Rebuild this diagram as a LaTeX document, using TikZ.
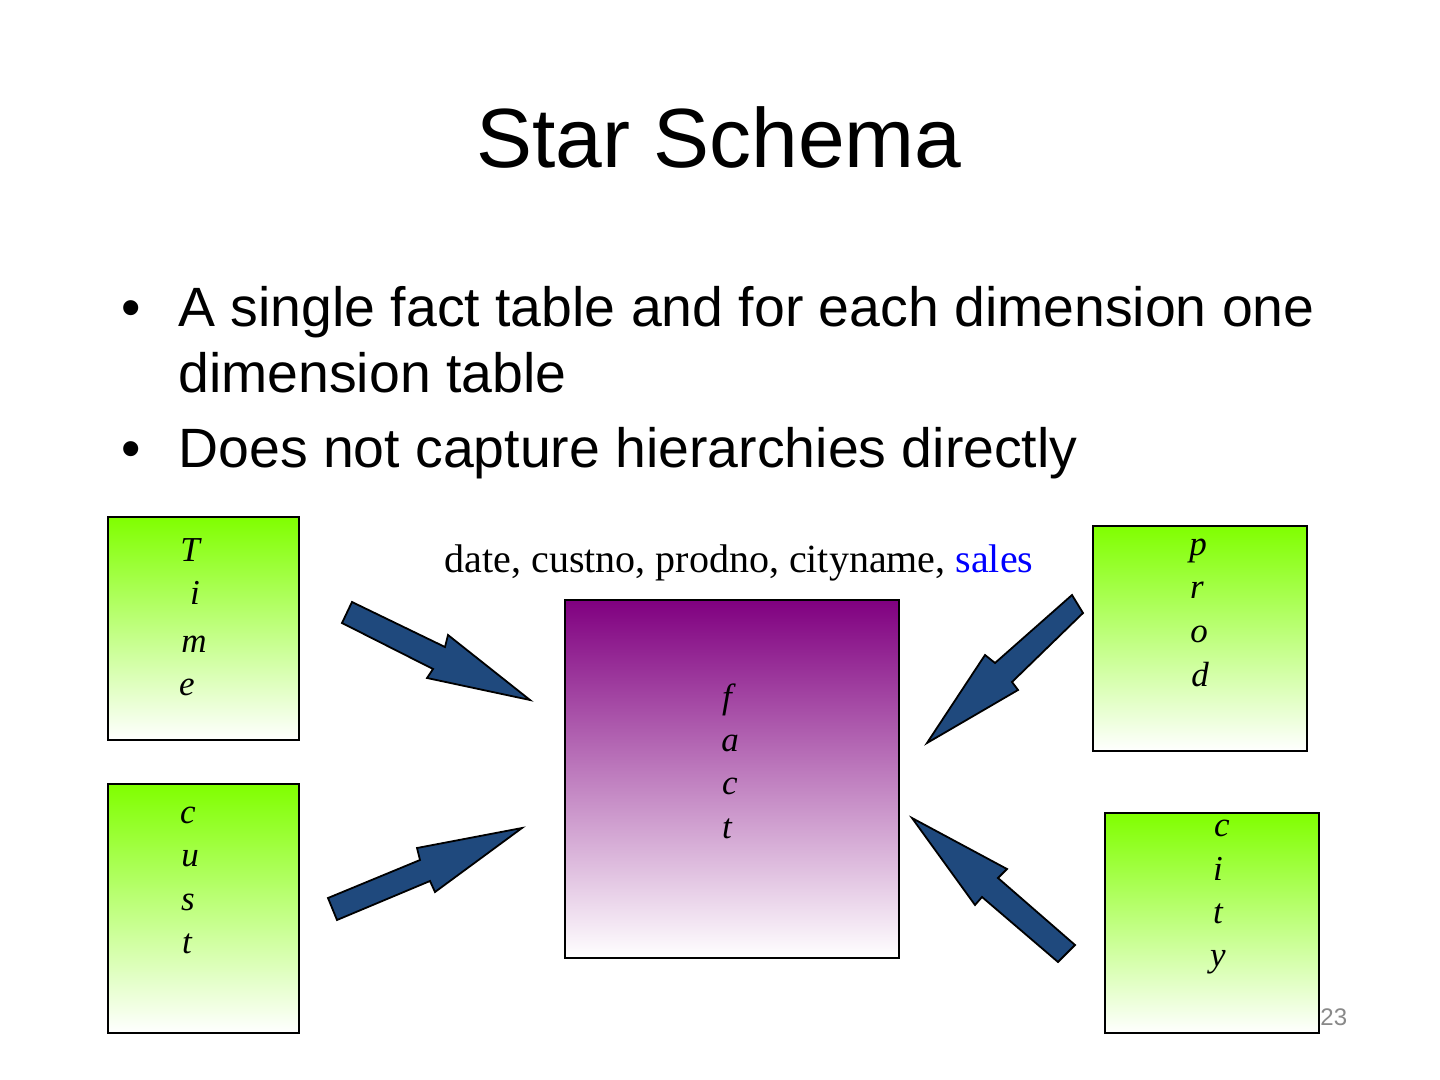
\documentclass[tikz,border=0pt]{standalone}
\usepackage{fontspec}
\setmainfont{Liberation Sans}
\newfontfamily\serifdiag{Liberation Serif}
\usetikzlibrary{positioning}
\definecolor{dimgreen}{RGB}{128,255,0}
\definecolor{factpurple}{RGB}{128,0,128}
\definecolor{arrowblue}{RGB}{31,73,125}
\definecolor{pagegray}{RGB}{137,137,137}

\begin{document}
\begin{tikzpicture}[
  x=0.5pt, y=-0.5pt,
  dimbox/.style={rectangle,draw,line width=1pt,top color=dimgreen,bottom color=white,inner sep=0pt},
  factbox/.style={rectangle,draw,line width=1pt,top color=factpurple,bottom color=white,inner sep=0pt},
  letter/.style={anchor=base,inner sep=0pt,font=\serifdiag\itshape\fontsize{17.5}{22}\selectfont},
  bullettext/.style={anchor=base west,inner sep=0pt,font=\fontsize{27.7}{33}\selectfont},
  blockarrow/.style={draw=black,line width=0.9pt,fill=arrowblue}
]%
  \useasboundingbox (0,0) rectangle (1440,1080);
  \fill[white] (0,0) rectangle (1440,1080);

  % Title
  \node[anchor=base,inner sep=0pt,font=\fontsize{42}{50}\selectfont] (title) at (719,168) {Star Schema};

  % Bullets
  \node[bullettext] (dot1) at (121,327) {\textbullet};
  \node[bullettext] (item1) at (178,327) {A single fact table and for each dimension one};
  \node[bullettext] (item1b) at ([yshift=-33pt]item1.base west) {dimension table};
  \node[bullettext] (dot2) at (121,467) {\textbullet};
  \node[bullettext] (item2) at (178,467) {Does not capture hierarchies directly};

  % Dimension tables
  \node[dimbox,minimum width=95.5pt,minimum height=111.5pt] (time) at (203.5,628.5) {};
  \node[dimbox,minimum width=95.5pt,minimum height=124.5pt] (cust) at (203.5,908.5) {};
  \node[dimbox,minimum width=107pt,minimum height=112.5pt] (prod) at (1200,638.5) {};
  \node[dimbox,minimum width=107pt,minimum height=110pt] (city) at (1212,923) {};

  % Fact table
  \node[factbox,minimum width=167pt,minimum height=179pt] (fact) at (732,779) {};
  \node[anchor=base,inner sep=0pt,font=\serifdiag\fontsize{20}{24}\selectfont] (factattrs)
    at (739,572) {date, custno, prodno, cityname, \textcolor{blue}{sales}};

  % Table names, one letter per line
  \foreach \ch/\x/\y [count=\i] in {T/190/561,i/195/604,m/194/652,e/187/695}
    \node[letter] (time-\i) at (\x,\y) {\ch};
  \foreach \ch/\x/\y [count=\i] in {c/188/823,u/190/866,s/188/910,t/187/953}
    \node[letter] (cust-\i) at (\x,\y) {\ch};
  \foreach \ch/\x/\y [count=\i] in {p/1198/555,r/1197/598,o/1199/642,d/1200/686}
    \node[letter] (prod-\i) at (\x,\y) {\ch};
  \foreach \ch/\x/\y [count=\i] in {c/1222/836,i/1218/880,t/1218/923,y/1218/966}
    \node[letter] (city-\i) at (\x,\y) {\ch};
  \foreach \ch/\x/\y [count=\i] in {f/727/708,a/730/751,c/730/794,t/727/838}
    \node[letter] (fact-\i) at (\x,\y) {\ch};

  % Block arrows into the fact table
  \draw[blockarrow] (352,602) -- (445,647) -- (448,635) -- (530,700)
    -- (427,678) -- (433,669) -- (342,623) -- cycle;
  \draw[blockarrow] (1072,595) -- (1083,613) -- (1012,682) -- (1018,690)
    -- (927,743) -- (985,655) -- (995,663) -- cycle;
  \draw[blockarrow] (337,920) -- (328,898) -- (420,860) -- (417,848)
    -- (522,828) -- (435,892) -- (430,881) -- cycle;
  \draw[blockarrow] (912,818) -- (1007,869) -- (998,878) -- (1075,945)
    -- (1058,962) -- (982,897) -- (975,905) -- cycle;

  % Page number
  \node[anchor=base west,inner sep=0pt,text=pagegray,font=\fontsize{12}{14}\selectfont] (pagenum)
    at (1320,1025) {23};
\end{tikzpicture}
\end{document}
